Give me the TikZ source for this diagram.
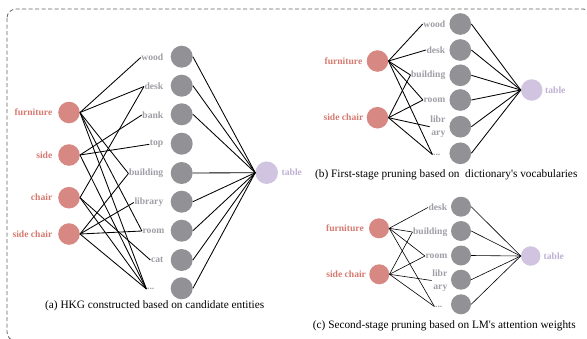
\documentclass[tikz,border=0pt]{standalone}
\usepackage{fontspec}
\setmainfont{Liberation Serif}
\definecolor{redfill}{RGB}{216,136,130}
\definecolor{redtext}{RGB}{212,122,112}
\definecolor{grayfill}{RGB}{146,146,150}
\definecolor{graytext}{RGB}{158,158,166}
\definecolor{tablefill}{RGB}{208,196,224}
\definecolor{tabletext}{RGB}{190,176,212}
\definecolor{bordergray}{RGB}{100,100,100}
\tikzset{
  redc/.style={circle, fill=redfill, minimum size=21.6pt, inner sep=0pt},
  grayc/.style={circle, fill=grayfill, minimum size=22pt, inner sep=0pt},
  tablec/.style={circle, fill=tablefill, minimum size=22.5pt, inner sep=0pt},
  labfont/.style={font=\fontsize{9.6}{12.8}\selectfont\bfseries},
  rlab/.style={labfont, text=redtext, inner sep=0.5pt, anchor=east},
  glab/.style={labfont, text=graytext, inner sep=0.5pt, anchor=east, align=right},
  tlab/.style={labfont, text=tabletext, inner sep=0.5pt, anchor=west},
  edgea/.style={black, line width=0.85pt},
  edgec/.style={black, line width=0.6pt},
  capt/.style={font=\fontsize{11.3}{13}\selectfont, anchor=west, inner sep=0pt},
  borderline/.style={draw=bordergray, line width=0.8pt, dash pattern=on 4pt off 2.5pt, rounded corners=9pt}
}
\begin{document}
\begin{tikzpicture}[x=1pt,y=-1pt]
\useasboundingbox (0,0) rectangle (587,338);
\begin{scope}
\clip (0,0) rectangle (587,338);
\path[borderline] (7,9) rectangle (592,341);
\end{scope}

% ---------- panel (a) ----------
\node[redc] (aF) at (69,112.5) {};
\node[redc] (aS) at (69,155) {};
\node[redc] (aC) at (69,197.7) {};
\node[redc] (aSC) at (69,234) {};
\node[rlab] (aFl) at (53,112.5) {furniture};
\node[rlab] (aSl) at (53,155) {side};
\node[rlab] (aCl) at (53,197.7) {chair};
\node[rlab] (aSCl) at (53,234) {side chair};

\node[grayc] (ag1) at (181.7,56.7) {};
\node[grayc] (ag2) at (181.7,85.7) {};
\node[grayc] (ag3) at (181.7,114.3) {};
\node[grayc] (ag4) at (181.7,143.7) {};
\node[grayc] (ag5) at (181.7,173) {};
\node[grayc] (ag6) at (181.7,201.7) {};
\node[grayc] (ag7) at (181.7,230.7) {};
\node[grayc] (ag8) at (181.7,260) {};
\node[grayc] (ag9) at (181.7,288.3) {};
\node[glab] (awood) at (164,57.5) {wood};
\node[glab] (adesk) at (164,86.5) {desk};
\node[glab] (abank) at (164,115) {bank};
\node[glab] (atop) at (164,144.3) {top};
\node[glab] (abuild) at (164,173.5) {building};
\node[glab] (alib) at (164,202.5) {library};
\node[glab] (aroom) at (165,231) {room};
\node[glab] (acat) at (164,260) {cat};
\node[glab] (adots) at (155,289) {...};

\node[tablec] (aT) at (266.7,172.7) {};
\node[tlab] (aTl) at (281,172.7) {table};

\foreach \t in {awood,adesk,abuild,aroom,adots} \draw[edgea] (aF.east) -- (\t.west);
\foreach \t in {abank,atop,adots} \draw[edgea] (aS.east) -- (\t.west);
\foreach \t in {adesk,acat,adots} \draw[edgea] (aC.east) -- (\t.west);
\foreach \t in {abuild,alib,aroom,adots} \draw[edgea] (aSC.east) -- (\t.west);
\foreach \g in {ag1,ag2,ag3,ag5,ag6,ag7,ag8,ag9} \draw[edgea] (\g.east) -- (aT.west);

\node[capt] (acap) at (45,306) {(a) HKG constructed based on candidate entities};

% ---------- panel (b) ----------
\node[redc] (bF) at (377.5,61) {};
\node[redc] (bSC) at (377.5,117.7) {};
\node[rlab] (bFl) at (363,61) {furniture};
\node[rlab] (bSCl) at (364,117.7) {side chair};

\node[grayc, minimum size=21.7pt] (bg1) at (460.3,24) {};
\node[grayc, minimum size=21.7pt] (bg2) at (460.3,50) {};
\node[grayc, minimum size=21.7pt] (bg3) at (460.3,75.3) {};
\node[grayc, minimum size=21.7pt] (bg4) at (460.3,100) {};
\node[grayc, minimum size=21.7pt] (bg5) at (460.3,126.7) {};
\node[grayc, minimum size=21.7pt] (bg6) at (460.3,153.3) {};
\node[glab] (bwood) at (446,24) {wood};
\node[glab] (bdesk) at (446,50) {desk};
\node[glab] (bbuild) at (446,75) {building};
\node[glab] (broom) at (446,100) {room};
\node[glab] (blib) at (446,126.7) {libr\\ary};
\node[glab] (bdots) at (441,154.5) {...};

\node[tablec, minimum size=21.5pt] (bT) at (531.7,90) {};
\node[tlab] (bTl) at (544.5,90) {table};

\foreach \t in {bwood,bdesk,bbuild,broom,bdots} \draw[edgea] (bF.east) -- (\t.west);
\foreach \t in {bbuild,broom,blib,bdots} \draw[edgea] (bSC.east) -- (\t.west);
\foreach \g in {bg1,bg2,bg3,bg4,bg5,bg6} \draw[edgea] (\g.east) -- (bT.west);

\node[capt] (bcap) at (315,175) {(b) First-stage pruning based on\ \ dictionary\textquotesingle s vocabularies};

% ---------- panel (c) ----------
\node[redc, minimum size=20pt] (cF) at (379,228.3) {};
\node[redc, minimum size=20pt] (cSC) at (379.3,274.3) {};
\node[rlab] (cFl) at (364.5,228.3) {furniture};
\node[rlab] (cSCl) at (366.7,274.3) {side chair};

\node[grayc, minimum size=20pt] (cg1) at (461,206.7) {};
\node[grayc, minimum size=20pt] (cg2) at (461,231) {};
\node[grayc, minimum size=20pt] (cg3) at (461,255.5) {};
\node[grayc, minimum size=20pt] (cg4) at (461,279.7) {};
\node[grayc, minimum size=20pt] (cg5) at (461,304.3) {};
\node[glab] (cdesk) at (448,207.5) {desk};
\node[glab] (cbuild) at (448,232) {building};
\node[glab] (croom) at (448,256) {room};
\node[glab] (clib) at (448,280.5) {libr\\ary};
\node[glab] (cdots) at (443,306.5) {...};

\node[tablec, minimum size=19.5pt] (cT) at (530.7,256) {};
\node[tlab] (cTl) at (543,256) {table};

\foreach \t in {cdesk,cbuild,croom,cdots} \draw[edgec] (cF.east) -- (\t.west);
\foreach \t in {cbuild,croom,clib,cdots} \draw[edgec] (cSC.east) -- (\t.west);
\foreach \g in {cg1,cg2,cg3,cg4,cg5} \draw[edgec] (\g.east) -- (cT.west);

\node[capt] (ccap) at (312.7,325.7) {(c) Second-stage pruning based on LM\textquotesingle s attention weights};
\end{tikzpicture}
\end{document}
